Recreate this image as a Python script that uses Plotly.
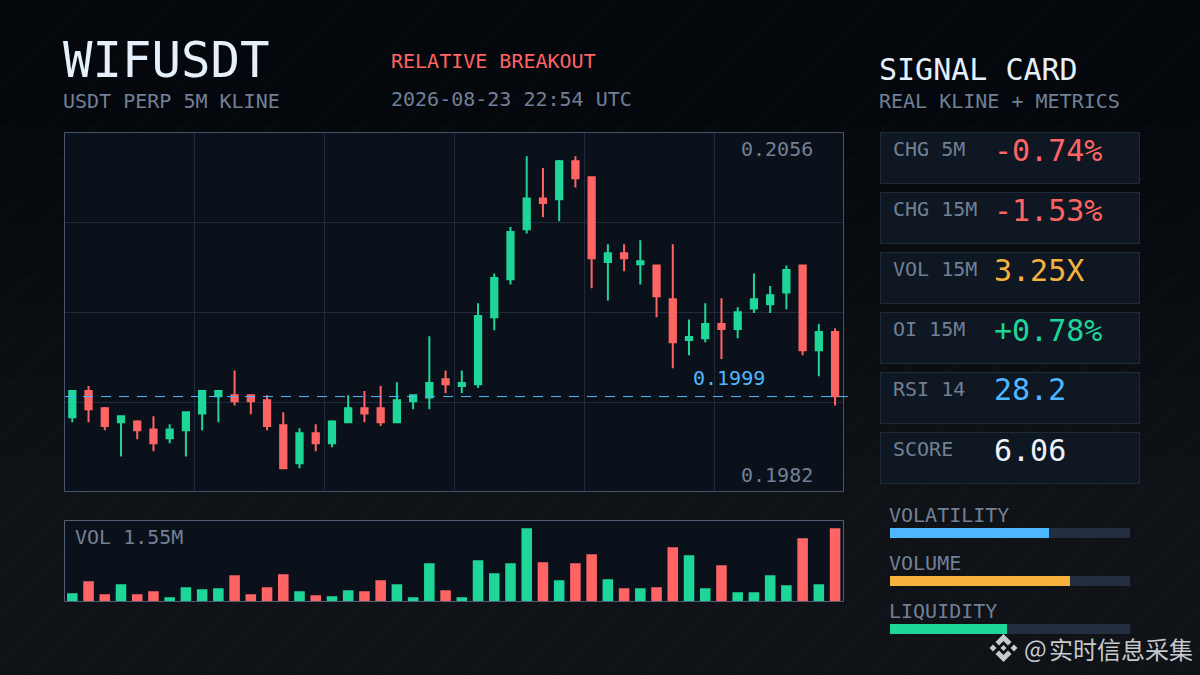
# %% WIFUSDT signal card chart

import plotly.graph_objects as go


# %% Chart data

candle_index = list(range(48))
opens = [
    0.19941, 0.20003, 0.19962, 0.19929, 0.19931, 0.19912, 0.19891, 0.19910,
    0.19950, 0.19991, 0.19993, 0.19993, 0.19981, 0.19922, 0.19832, 0.19903,
    0.19879, 0.19929, 0.19962, 0.19962, 0.19929, 0.19979, 0.19988, 0.20031,
    0.20015, 0.20019, 0.20178, 0.20268, 0.20387, 0.20460, 0.20458, 0.20548,
    0.20510, 0.20309, 0.20330, 0.20304, 0.20301, 0.20221, 0.20124, 0.20128,
    0.20162, 0.20150, 0.20199, 0.20209, 0.20237, 0.20301, 0.20100, 0.20143,
]
highs = [
    0.20003, 0.20015, 0.19965, 0.19943, 0.19934, 0.19943, 0.19924, 0.19953,
    0.20003, 0.20003, 0.20052, 0.19993, 0.19993, 0.19953, 0.19915, 0.19924,
    0.19934, 0.19993, 0.20003, 0.20015, 0.20024, 0.19993, 0.20133, 0.20052,
    0.20052, 0.20211, 0.20282, 0.20392, 0.20560, 0.20532, 0.20551, 0.20560,
    0.20510, 0.20351, 0.20351, 0.20361, 0.20301, 0.20351, 0.20173, 0.20211,
    0.20223, 0.20202, 0.20282, 0.20252, 0.20301, 0.20301, 0.20162, 0.20152,
]
lows = [
    0.19929, 0.19929, 0.19910, 0.19848, 0.19889, 0.19860, 0.19879, 0.19848,
    0.19910, 0.19929, 0.19969, 0.19948, 0.19910, 0.19820, 0.19820, 0.19860,
    0.19870, 0.19929, 0.19929, 0.19920, 0.19929, 0.19960, 0.19960, 0.19998,
    0.19998, 0.20010, 0.20147, 0.20256, 0.20377, 0.20415, 0.20406, 0.20486,
    0.20247, 0.20218, 0.20287, 0.20256, 0.20178, 0.20057, 0.20088, 0.20119,
    0.20079, 0.20128, 0.20188, 0.20188, 0.20197, 0.20088, 0.20038, 0.19969,
]
closes = [
    0.20003, 0.19960, 0.19920, 0.19943, 0.19910, 0.19879, 0.19912, 0.19953,
    0.20003, 0.20003, 0.19979, 0.19979, 0.19920, 0.19820, 0.19903, 0.19879,
    0.19931, 0.19962, 0.19950, 0.19929, 0.19981, 0.19993, 0.20022, 0.20019,
    0.20022, 0.20181, 0.20271, 0.20380, 0.20460, 0.20449, 0.20548, 0.20508,
    0.20318, 0.20330, 0.20318, 0.20311, 0.20228, 0.20119, 0.20131, 0.20162,
    0.20150, 0.20190, 0.20221, 0.20230, 0.20290, 0.20100, 0.20143, 0.19991,
]
volumes = [
    0.176, 0.429, 0.155, 0.366, 0.155, 0.218, 0.091, 0.302,
    0.260, 0.281, 0.555, 0.155, 0.302, 0.576, 0.218, 0.134,
    0.112, 0.239, 0.218, 0.450, 0.366, 0.091, 0.808, 0.239,
    0.091, 0.872, 0.598, 0.808, 1.547, 0.830, 0.450, 0.808,
    0.998, 0.471, 0.281, 0.281, 0.302, 1.146, 0.977, 0.281,
    0.766, 0.197, 0.197, 0.555, 0.344, 1.336, 0.366, 1.547,
]
last_price = 0.1999

metric_labels = ["CHG 5M", "CHG 15M", "VOL 15M", "OI 15M", "RSI 14", "SCORE"]
metric_values = ["-0.74%", "-1.53%", "3.25X", "+0.78%", "28.2", "6.06"]

meter_labels = ["VOLATILITY", "VOLUME", "LIQUIDITY"]
meter_values = [0.6625, 0.75, 0.4875]


# %% Style

width = 1200
height = 675
mono = "DejaVu Sans Mono"
green = "#1ed698"
red = "#ff6464"
blue = "#4db8ff"
orange = "#f7b23e"
white = "#e6f0fa"
muted = "#718096"
grid = "#212a3a"
frame = "#47536b"
panel = "#0b111a"
card = "#0f1722"
card_line = "#1f2a3b"
track = "#232f40"

metric_colors = [red, red, orange, green, blue, "#edf3fa"]
meter_colors = [blue, orange, green]
volume_colors = [green if c >= o else red for o, c in zip(opens, closes)]


def px(x):
    return x / width


def py(y):
    return 1 - y / height


def poly(points):
    return "M" + "L".join(f"{px(x):.5f},{py(y):.5f}" for x, y in points) + "Z"


def rect(x0, y0, x1, y1, fill, line=None, layer="below"):
    return dict(
        type="rect", xref="paper", yref="paper", layer=layer,
        x0=px(x0), x1=px(x1), y0=py(y0), y1=py(y1),
        fillcolor=fill,
        line=dict(color=line, width=1) if line else dict(width=0),
    )


def label(x, y, text, size, color, anchor="left", family=mono):
    return dict(
        x=px(x), y=py(y), xref="paper", yref="paper", text=text,
        xanchor=anchor, yanchor="middle", showarrow=False, borderpad=0,
        font=dict(family=family, size=size, color=color),
    )


# %% Background, panels and logo

shapes = []

# stepped vertical gradient, dark at the top and lifting towards the bottom
strip_top = [4, 7, 12]
strip_bottom = [15, 18, 22]
for step in range(28):
    y0 = 0 if step == 0 else 110 + (step - 1) * 15
    y1 = 675 if step == 27 else 110 + step * 15
    mix = step / 27
    rgb = [round(a + (b - a) * mix) for a, b in zip(strip_top, strip_bottom)]
    shapes.append(rect(y0=y0, y1=y1, x0=0, x1=width, fill=f"rgb({rgb[0]},{rgb[1]},{rgb[2]})"))

# faint diagonal hatching
for k in range(1, 43):
    offset = 44 * k + 1
    shapes.append(dict(
        type="line", xref="paper", yref="paper", layer="below",
        x0=px(0), y0=py(offset), x1=px(offset), y1=py(0),
        line=dict(color="rgba(120,150,190,0.07)", width=1),
    ))

shapes.append(rect(65, 133, 844, 492, panel))
shapes.append(rect(65, 520, 844, 602, panel))

for i in range(len(metric_labels)):
    top = 132.5 + 60 * i
    shapes.append(rect(880.5, top, 1139.5, top + 51, card, card_line))

# chart frames are drawn by hand so they land on whole pixels
shapes.append(rect(64.5, 132.5, 843.5, 491.5, "rgba(0,0,0,0)", frame, "above"))
shapes.append(rect(64.5, 520.5, 843.5, 601.5, "rgba(0,0,0,0)", "#525e76", "above"))

# dashed last price line, a little past the frame on the right
shapes.append(dict(
    type="line", xref="paper", yref="y", layer="above",
    x0=px(65), x1=px(848), y0=last_price, y1=last_price,
    line=dict(color=blue, width=1, dash="10px,8px"),
))

logo_x = 1003.5
logo_y = 648
logo_color = "#c6cacf"
logo_parts = [
    [(0, -14), (8, -6), (4.5, -2.5), (0, -7), (-4.5, -2.5), (-8, -6)],
    [(0, 14), (8, 6), (4.5, 2.5), (0, 7), (-4.5, 2.5), (-8, 6)],
    [(-14, 0), (-10.5, -3.5), (-7, 0), (-10.5, 3.5)],
    [(14, 0), (10.5, -3.5), (7, 0), (10.5, 3.5)],
    [(0, -3), (3, 0), (0, 3), (-3, 0)],
]
for part in logo_parts:
    shapes.append(dict(
        type="path", xref="paper", yref="paper", layer="above",
        path=poly([(logo_x + dx, logo_y + dy) for dx, dy in part]),
        fillcolor=logo_color, line=dict(width=0),
    ))


# %% Texts

annotations = [
    label(62, 60, "WIFUSDT", 49, white),
    label(62, 101, "USDT PERP 5M KLINE", 20, muted),
    label(390, 61, "RELATIVE BREAKOUT", 20, red),
    label(390, 99, "2026-08-23 22:54 UTC", 20, muted),
    label(878, 69, "SIGNAL CARD", 30, white),
    label(878, 101, "REAL KLINE + METRICS", 20, muted),
    label(814, 149, "0.2056", 20, muted, "right"),
    label(814, 475, "0.1982", 20, muted, "right"),
    label(692, 378, "0.1999", 20, blue),
    label(74, 537, "VOL 1.55M", 20, muted),
    label(1023, 647, "@", 24, "#c6cacf", family="Noto Sans CJK SC"),
    label(1048, 648, "实时信息采集", 24, "#c6cacf", family="Noto Sans CJK SC"),
]
for i, (name, value, color) in enumerate(zip(metric_labels, metric_values, metric_colors)):
    annotations.append(label(892, 149 + 60 * i, name, 20, muted))
    annotations.append(label(993, 150 + 60 * i, value, 30, color))
for i, name in enumerate(meter_labels):
    annotations.append(label(888, 515 + 48 * i, name, 20, muted))


# %% Figure

fig = go.Figure()

fig.add_trace(go.Candlestick(
    x=candle_index, open=opens, high=highs, low=lows, close=closes,
    increasing=dict(line=dict(color=green, width=2), fillcolor=green),
    decreasing=dict(line=dict(color=red, width=2), fillcolor=red),
    whiskerwidth=0, showlegend=False, xaxis="x", yaxis="y",
))
fig.add_trace(go.Bar(
    x=candle_index, y=volumes, width=0.65,
    marker=dict(color=volume_colors, line=dict(width=0)),
    showlegend=False, xaxis="x2", yaxis="y2",
))
fig.add_trace(go.Bar(
    x=[1] * len(meter_labels), y=meter_labels, orientation="h", width=10 / 48,
    marker=dict(color=track, line=dict(width=0)),
    showlegend=False, xaxis="x3", yaxis="y3",
))
fig.add_trace(go.Bar(
    x=meter_values, y=meter_labels, orientation="h", width=10 / 48,
    marker=dict(color=meter_colors, line=dict(width=0)),
    showlegend=False, xaxis="x3", yaxis="y3",
))

x_range = [-0.45, 47.55]
price_range = [0.197636, 0.206151]
axis_common = dict(showticklabels=False, ticks="", zeroline=False, showline=False)
hidden = dict(visible=False, fixedrange=True)

fig.update_layout(
    width=width,
    height=height,
    autosize=False,
    margin=dict(l=0, r=0, t=0, b=0),
    paper_bgcolor="#0a0d12",
    plot_bgcolor="rgba(0,0,0,0)",
    barmode="overlay",
    boxgap=0.45,
    showlegend=False,
    hovermode=False,
    xaxis=dict(
        **axis_common, domain=[px(65), px(844)], range=x_range, anchor="y",
        rangeslider=dict(visible=False), showgrid=True, gridcolor=grid, gridwidth=1,
        tick0=x_range[0], dtick=8,
    ),
    yaxis=dict(
        **axis_common, domain=[py(492), py(133)], range=price_range, anchor="x",
        showgrid=True, gridcolor=grid, gridwidth=1,
        tick0=price_range[0], dtick=(price_range[1] - price_range[0]) / 4,
    ),
    xaxis2=dict(
        **axis_common, domain=[px(65), px(844)], range=x_range, anchor="y2",
        showgrid=False,
    ),
    yaxis2=dict(
        **axis_common, domain=[py(601.5), py(520.5)], range=[0, 1.71], anchor="x2",
        showgrid=False,
    ),
    xaxis3=dict(**hidden, domain=[px(890), px(1130)], range=[0, 1], anchor="y3"),
    yaxis3=dict(
        **hidden, domain=[py(653), py(509)], anchor="x3",
        type="category", categoryorder="array", categoryarray=meter_labels[::-1],
    ),
    shapes=shapes,
    annotations=annotations,
)

fig.write_html(
    "out.html",
    config={"displayModeBar": False},
    post_script="document.body.style.margin='0';",
)
